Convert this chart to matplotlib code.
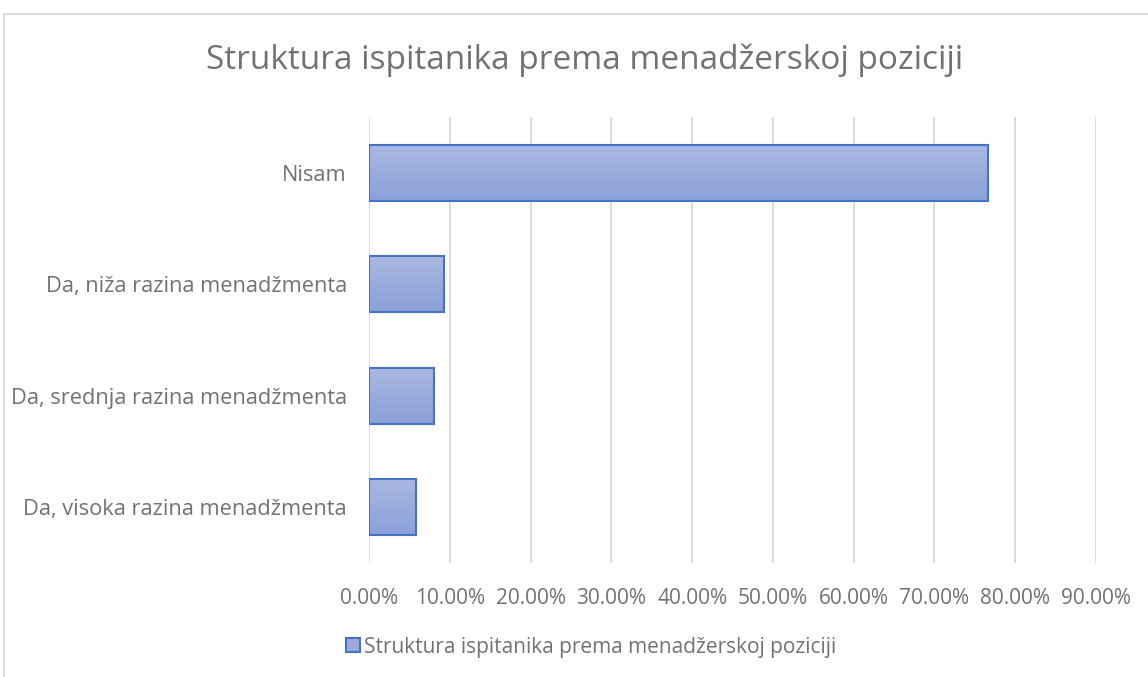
import matplotlib
matplotlib.use("Agg")
import matplotlib.pyplot as plt
import numpy as np
from matplotlib.patches import Rectangle
from matplotlib.ticker import FuncFormatter, MultipleLocator
from matplotlib.colors import LinearSegmentedColormap

categories = ["Nisam", "Da, niža razina menadžmenta", "Da, srednja razina menadžmenta", "Da, visoka razina menadžmenta"]
values = [76.6, 9.3, 8.1, 5.8]
series_name = "Struktura ispitanika prema menadžerskoj poziciji"
title = "Struktura ispitanika prema menadžerskoj poziciji"

plt.rcParams['font.family'] = ['Open Sans', 'DejaVu Sans']
text_color = "#727272"

fig = plt.figure(figsize=(11.48, 6.77), dpi=100)
W, H = 1148, 677
ax = fig.add_axes([369 / W, 1 - 563 / H, (1096 - 369) / W, (563 - 117) / H])

y = np.arange(len(categories))
bars = ax.barh(y, values, height=0.5, color="#9aabdc", edgecolor="#4472c4", linewidth=1.5, zorder=3,
               label=series_name)

grad = np.linspace(0, 1, 100).reshape(-1, 1)
cmap = LinearSegmentedColormap.from_list("g", ["#aab8e2", "#8ba1d9"])
for b in bars:
    x0, y0 = b.get_x(), b.get_y()
    w, h = b.get_width(), b.get_height()
    im = ax.imshow(grad, cmap=cmap, aspect="auto", extent=(x0, x0 + w, y0 + h, y0), zorder=2.5)
    im.set_clip_path(b)
    b.set_facecolor("none")
ax.set_xlim(0, 90)
ax.set_ylim(len(categories) - 0.5, -0.5)

ax.set_yticks(y)
ax.set_yticklabels(categories, fontsize=15.7, color=text_color)
ax.xaxis.set_major_locator(MultipleLocator(10))
ax.xaxis.set_major_formatter(FuncFormatter(lambda v, p: f"{v:.2f}%"))
ax.tick_params(axis="x", labelsize=15, labelcolor=text_color, length=0, pad=18)
ax.tick_params(axis="y", length=0, pad=16)
ax.grid(axis="x", color="#d9d9d9", linewidth=1.3, zorder=0)
for s in ax.spines.values():
    s.set_visible(False)

fig.text(585 / W, 1 - 60 / H, title, ha="center", va="center", fontsize=24, color=text_color)

leg = fig.legend(handles=[Rectangle((0, 0), 1, 1, facecolor="#9aabdc", edgecolor="#4472c4", linewidth=1.5)],
                 labels=[series_name], loc="center", bbox_to_anchor=(591 / W, 1 - 647 / H),
                 frameon=False, fontsize=15, handlelength=0.65, handleheight=0.65, handletextpad=0.2)
for t in leg.get_texts():
    t.set_color(text_color)

fig.patches.append(Rectangle((4 / W, -0.01), 1.01, 1 - 14 / H + 0.01, transform=fig.transFigure,
                             fill=False, edgecolor="#d9d9d9", linewidth=1.3))

fig.savefig("out.png", dpi=100)
